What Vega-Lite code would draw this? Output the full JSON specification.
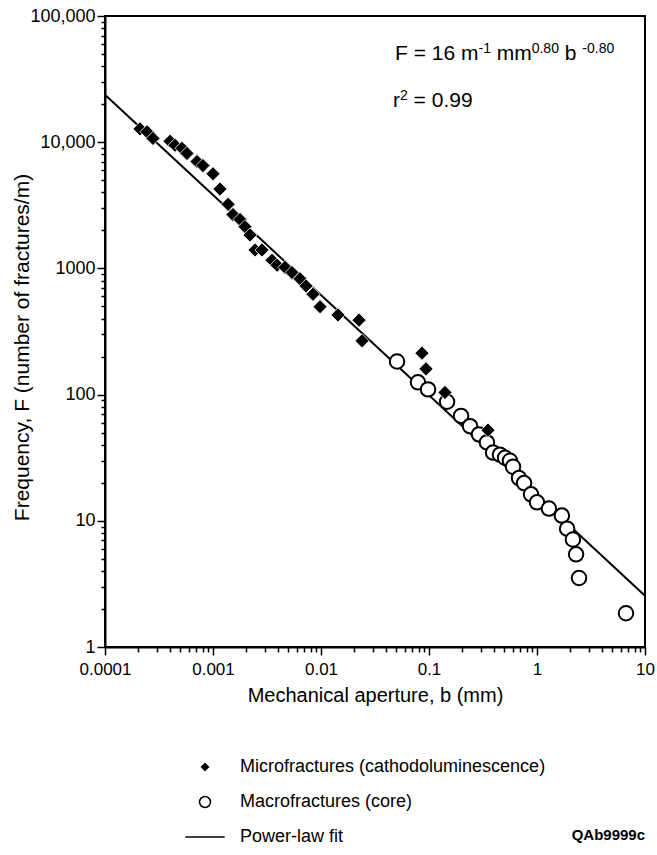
{
  "$schema": "https://vega.github.io/schema/vega-lite/v6.json",
  "width": 540,
  "height": 631,
  "autosize": {"type": "none"},
  "padding": {"left": 105, "top": 16, "right": 12, "bottom": 208},
  "background": "white",
  "config": {
    "font": "Liberation Sans",
    "view": {"stroke": "black", "strokeWidth": 2},
    "axis": {
      "domainColor": "black", "domainWidth": 2, "tickColor": "black", "tickWidth": 1.5,
      "labelColor": "black", "labelFont": "Liberation Sans", "labelFontSize": 17,
      "titleColor": "black", "titleFont": "Liberation Sans", "titleFontSize": 20, "titleFontWeight": "normal",
      "grid": false, "labelOverlap": false, "labelFlush": false
    }
  },
  "datasets": {
    "points": [
      {"type": "Macrofractures (core)", "b": 0.0506, "F": 183},
      {"type": "Macrofractures (core)", "b": 0.079, "F": 125},
      {"type": "Macrofractures (core)", "b": 0.098, "F": 110},
      {"type": "Macrofractures (core)", "b": 0.147, "F": 87.8},
      {"type": "Macrofractures (core)", "b": 0.198, "F": 67.8},
      {"type": "Macrofractures (core)", "b": 0.240, "F": 56.2},
      {"type": "Macrofractures (core)", "b": 0.290, "F": 48.4},
      {"type": "Macrofractures (core)", "b": 0.344, "F": 41.8},
      {"type": "Macrofractures (core)", "b": 0.392, "F": 34.7},
      {"type": "Macrofractures (core)", "b": 0.454, "F": 33.4},
      {"type": "Macrofractures (core)", "b": 0.506, "F": 31.6},
      {"type": "Macrofractures (core)", "b": 0.562, "F": 29.9},
      {"type": "Macrofractures (core)", "b": 0.600, "F": 26.8},
      {"type": "Macrofractures (core)", "b": 0.681, "F": 21.8},
      {"type": "Macrofractures (core)", "b": 0.759, "F": 19.9},
      {"type": "Macrofractures (core)", "b": 0.880, "F": 16.2},
      {"type": "Macrofractures (core)", "b": 1.0, "F": 14.0},
      {"type": "Macrofractures (core)", "b": 1.29, "F": 12.5},
      {"type": "Macrofractures (core)", "b": 1.70, "F": 11.0},
      {"type": "Macrofractures (core)", "b": 1.90, "F": 8.66},
      {"type": "Macrofractures (core)", "b": 2.15, "F": 7.11},
      {"type": "Macrofractures (core)", "b": 2.30, "F": 5.42},
      {"type": "Macrofractures (core)", "b": 2.45, "F": 3.52},
      {"type": "Macrofractures (core)", "b": 6.67, "F": 1.85},
      {"type": "Microfractures (cathodoluminescence)", "b": 0.000211, "F": 12740},
      {"type": "Microfractures (cathodoluminescence)", "b": 0.000245, "F": 12100},
      {"type": "Microfractures (cathodoluminescence)", "b": 0.000278, "F": 10720},
      {"type": "Microfractures (cathodoluminescence)", "b": 0.000400, "F": 10170},
      {"type": "Microfractures (cathodoluminescence)", "b": 0.000445, "F": 9460},
      {"type": "Microfractures (cathodoluminescence)", "b": 0.000516, "F": 8950},
      {"type": "Microfractures (cathodoluminescence)", "b": 0.000574, "F": 8150},
      {"type": "Microfractures (cathodoluminescence)", "b": 0.000711, "F": 7030},
      {"type": "Microfractures (cathodoluminescence)", "b": 0.000807, "F": 6530},
      {"type": "Microfractures (cathodoluminescence)", "b": 0.001, "F": 5620},
      {"type": "Microfractures (cathodoluminescence)", "b": 0.00116, "F": 4250},
      {"type": "Microfractures (cathodoluminescence)", "b": 0.00138, "F": 3220},
      {"type": "Microfractures (cathodoluminescence)", "b": 0.00153, "F": 2670},
      {"type": "Microfractures (cathodoluminescence)", "b": 0.00178, "F": 2440},
      {"type": "Microfractures (cathodoluminescence)", "b": 0.00198, "F": 2140},
      {"type": "Microfractures (cathodoluminescence)", "b": 0.00220, "F": 1840},
      {"type": "Microfractures (cathodoluminescence)", "b": 0.00245, "F": 1400},
      {"type": "Microfractures (cathodoluminescence)", "b": 0.00284, "F": 1400},
      {"type": "Microfractures (cathodoluminescence)", "b": 0.00352, "F": 1160},
      {"type": "Microfractures (cathodoluminescence)", "b": 0.00392, "F": 1060},
      {"type": "Microfractures (cathodoluminescence)", "b": 0.00464, "F": 1020},
      {"type": "Microfractures (cathodoluminescence)", "b": 0.00539, "F": 927},
      {"type": "Microfractures (cathodoluminescence)", "b": 0.00639, "F": 828},
      {"type": "Microfractures (cathodoluminescence)", "b": 0.00727, "F": 726},
      {"type": "Microfractures (cathodoluminescence)", "b": 0.00843, "F": 624},
      {"type": "Microfractures (cathodoluminescence)", "b": 0.0098, "F": 497},
      {"type": "Microfractures (cathodoluminescence)", "b": 0.01437, "F": 428},
      {"type": "Microfractures (cathodoluminescence)", "b": 0.0225, "F": 389},
      {"type": "Microfractures (cathodoluminescence)", "b": 0.0240, "F": 267},
      {"type": "Microfractures (cathodoluminescence)", "b": 0.0861, "F": 213},
      {"type": "Microfractures (cathodoluminescence)", "b": 0.0938, "F": 160},
      {"type": "Microfractures (cathodoluminescence)", "b": 0.1406, "F": 104},
      {"type": "Microfractures (cathodoluminescence)", "b": 0.3516, "F": 52.3}
    ],
    "fit": [
      {"b": 0.0001, "F": 23800},
      {"b": 10, "F": 2.55}
    ],
    "notes": [
      {"t": "F = 16 m", "b": 0.04843, "F": 44800, "sup": false},
      {"t": "-1", "b": 0.2873, "F": 50900, "sup": true},
      {"t": "mm", "b": 0.4236, "F": 44800, "sup": false},
      {"t": "0.80", "b": 0.8931, "F": 50900, "sup": true},
      {"t": "b", "b": 1.805, "F": 44800, "sup": false},
      {"t": "-0.80", "b": 2.627, "F": 50900, "sup": true},
      {"t": "r", "b": 0.04642, "F": 19000, "sup": false},
      {"t": "2", "b": 0.05389, "F": 21600, "sup": true},
      {"t": "= 0.99", "b": 0.07203, "F": 19000, "sup": false}
    ],
    "tag": [
      {"t": "QAb9999c", "b": 10, "F": 0.0296}
    ]
  },
  "layer": [
    {
      "data": {"name": "fit"},
      "mark": {"type": "line", "color": "black", "strokeWidth": 2},
      "encoding": {
        "x": {
          "field": "b", "type": "quantitative",
          "scale": {"type": "log", "domain": [0.0001, 10], "nice": false},
          "axis": {
            "title": "Mechanical aperture, b (mm)",
            "values": [0.0001,0.0002,0.0003,0.0004,0.0005,0.0006,0.0007,0.0008,0.0009,0.001,0.002,0.003,0.004,0.005,0.006,0.007,0.008,0.009,0.01,0.02,0.03,0.04,0.05,0.06,0.07,0.08,0.09,0.1,0.2,0.3,0.4,0.5,0.6,0.7,0.8,0.9,1,2,3,4,5,6,7,8,9,10],
            "labelExpr": "abs(log(datum.value)/LN10 - round(log(datum.value)/LN10)) < 0.001 ? (datum.value < 1 ? format(datum.value, '.4~f') : format(datum.value, 'd')) : ''",
            "tickSize": {"condition": {"test": "abs(log(datum.value)/LN10 - round(log(datum.value)/LN10)) < 0.001", "value": 8}, "value": 5},
            "labelPadding": 6,
            "titlePadding": 8
          }
        },
        "y": {
          "field": "F", "type": "quantitative",
          "scale": {"type": "log", "domain": [1, 100000], "nice": false},
          "axis": {
            "title": "Frequency, F (number of fractures/m)",
            "values": [1,2,3,4,5,6,7,8,9,10,20,30,40,50,60,70,80,90,100,200,300,400,500,600,700,800,900,1000,2000,3000,4000,5000,6000,7000,8000,9000,10000,20000,30000,40000,50000,60000,70000,80000,90000,100000],
            "labelExpr": "abs(log(datum.value)/LN10 - round(log(datum.value)/LN10)) < 0.001 ? (datum.value >= 10000 ? format(datum.value, ',') : format(datum.value, 'd')) : ''",
            "tickSize": {"condition": {"test": "abs(log(datum.value)/LN10 - round(log(datum.value)/LN10)) < 0.001", "value": 8}, "value": 4},
            "labelPadding": 2,
            "labelFontSize": 18,
            "titleFontSize": 21,
            "titleX": -83,
            "titleY": 331,
            "titleBaseline": "middle",
            "titleAngle": -90
          }
        }
      }
    },
    {
      "data": {"name": "points"},
      "transform": [{"filter": "datum.type === 'Macrofractures (core)'"}],
      "mark": {"type": "point", "opacity": 1, "size": 210, "strokeWidth": 2},
      "encoding": {
        "x": {"field": "b", "type": "quantitative"},
        "y": {"field": "F", "type": "quantitative"},
        "shape": {
          "field": "type", "type": "nominal",
          "scale": {"domain": ["Microfractures (cathodoluminescence)", "Macrofractures (core)", "Power-law fit"], "range": ["diamond", "circle", "M-3.6,0H3.6"]},
          "legend": {
            "title": null, "orient": "none", "legendX": 91, "legendY": 742, "direction": "vertical",
            "labelFontSize": 18, "labelFont": "Liberation Sans", "labelColor": "black", "labelOffset": 26,
            "rowPadding": 17, "symbolSize": 120, "symbolStrokeWidth": 1.5, "labelLimit": 500, "padding": 0
          }
        },
        "fill": {
          "field": "type", "type": "nominal",
          "scale": {"domain": ["Microfractures (cathodoluminescence)", "Macrofractures (core)", "Power-law fit"], "range": ["black", "white", "transparent"]}
        },
        "stroke": {
          "field": "type", "type": "nominal",
          "scale": {"domain": ["Microfractures (cathodoluminescence)", "Macrofractures (core)", "Power-law fit"], "range": ["white", "black", "black"]}
        }
      }
    },
    {
      "data": {"name": "points"},
      "transform": [{"filter": "datum.type === 'Microfractures (cathodoluminescence)'"}],
      "mark": {"type": "point", "opacity": 1, "size": 200, "strokeWidth": 0.8},
      "encoding": {
        "x": {"field": "b", "type": "quantitative"},
        "y": {"field": "F", "type": "quantitative"},
        "shape": {"field": "type", "type": "nominal"},
        "fill": {"field": "type", "type": "nominal"},
        "stroke": {"field": "type", "type": "nominal"}
      }
    },
    {
      "data": {"name": "notes"},
      "transform": [{"filter": "!datum.sup"}],
      "mark": {"type": "text", "align": "left", "baseline": "alphabetic", "fontSize": 21, "font": "Liberation Sans", "color": "black"},
      "encoding": {
        "x": {"field": "b", "type": "quantitative"},
        "y": {"field": "F", "type": "quantitative"},
        "text": {"field": "t"}
      }
    },
    {
      "data": {"name": "notes"},
      "transform": [{"filter": "datum.sup"}],
      "mark": {"type": "text", "align": "left", "baseline": "alphabetic", "fontSize": 14, "font": "Liberation Sans", "color": "black"},
      "encoding": {
        "x": {"field": "b", "type": "quantitative"},
        "y": {"field": "F", "type": "quantitative"},
        "text": {"field": "t"}
      }
    },
    {
      "data": {"name": "tag"},
      "mark": {"type": "text", "align": "right", "baseline": "alphabetic", "fontSize": 15, "fontWeight": "bold", "font": "Liberation Sans", "color": "black", "clip": false},
      "encoding": {
        "x": {"field": "b", "type": "quantitative"},
        "y": {"field": "F", "type": "quantitative"},
        "text": {"field": "t"}
      }
    }
  ]
}
